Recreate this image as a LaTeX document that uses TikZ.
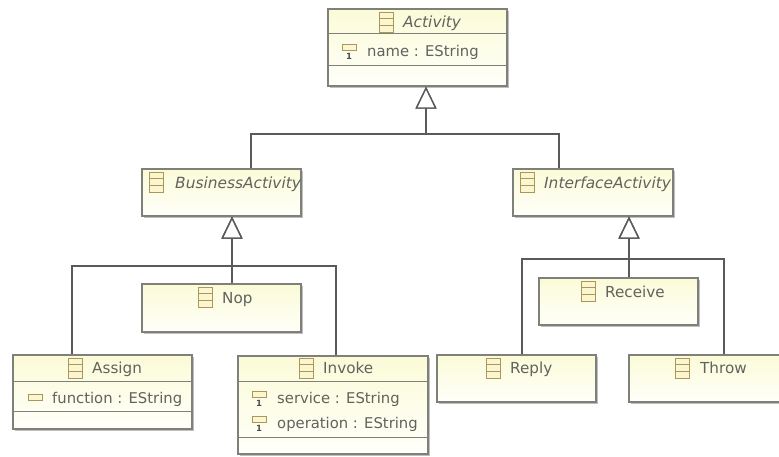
\documentclass[tikz,border=0pt]{standalone}
\usepackage{fontspec}
\setmainfont{DejaVu Sans}
\usetikzlibrary{arrows.meta,shadows}
\definecolor{edgec}{HTML}{5A5A5A}
\definecolor{boxc}{HTML}{80807A}
\definecolor{txtc}{HTML}{62625E}
\definecolor{iconc}{HTML}{A8985E}
\definecolor{iconf}{HTML}{FBF6CF}
\definecolor{topc}{HTML}{FBFBD8}
\definecolor{botc}{HTML}{FFFFFA}
\tikzset{
  umlbox/.style={draw=boxc,line width=1.3pt,top color=topc,bottom color=botc,inner sep=0pt,
    drop shadow={shadow xshift=1.5pt,shadow yshift=-1.5pt,fill=black,opacity=.25}},
  sep/.style={draw=boxc,line width=1pt},
  gen/.style={draw=edgec,line width=1.4pt,-{Triangle[open,fill=white,length=22pt,width=21pt,line width=1.4pt]}},
  lbl/.style={anchor=base west,inner sep=0pt,text=txtc,font=\fontsize{14.8}{17}\selectfont},
  tlbl/.style={lbl,font=\fontsize{15.2}{17}\selectfont},
  ilbl/.style={lbl,font=\fontsize{15.4}{17}\selectfont\itshape},
  oneb/.style={anchor=base,inner sep=0pt,text=black!70,font=\fontsize{8.5}{9}\selectfont\bfseries},
  ibar/.style={draw=iconc,fill=iconf,line width=1pt},
}
\newcommand{\classicon}[2]{%
  \path[ibar] (#1,#2) rectangle ++(14,20);
  \draw[iconc,line width=.9pt] (#1,#2+6.7) -- ++(14,0) (#1,#2+13.3) -- ++(14,0);}
\newcommand{\attricon}[3]{% x, top y, name
  \path[ibar] (#1,#2) rectangle ++(14,6);
  \node[oneb] (#3) at (#1+7,#2+15) {1};}
\begin{document}
\begin{tikzpicture}[x=1pt,y=-1pt]
\useasboundingbox (0,0) rectangle (779,456);
\clip (0,0) rectangle (779,456);
\fill[white] (0,0) rectangle (779,456);
% class boxes
\node[umlbox,minimum width=179pt,minimum height=77pt] (activity) at (417.5,47.5) {};
\node[umlbox,minimum width=159pt,minimum height=47pt] (business) at (221.5,192.5) {};
\node[umlbox,minimum width=160pt,minimum height=47pt] (interface) at (593,192.5) {};
\node[umlbox,minimum width=159pt,minimum height=48pt] (nop) at (221.5,308) {};
\node[umlbox,minimum width=179pt,minimum height=74pt] (assign) at (102.5,392) {};
\node[umlbox,minimum width=190pt,minimum height=98pt] (invoke) at (333,405) {};
\node[umlbox,minimum width=159pt,minimum height=47pt] (receive) at (618.5,301.5) {};
\node[umlbox,minimum width=159pt,minimum height=47pt] (reply) at (516.5,378.5) {};
\node[umlbox,minimum width=159pt,minimum height=47pt] (throw) at (708.5,378.5) {};
% compartments
\draw[sep] (activity.west |- 0,33.5) -- (activity.east |- 0,33.5) (activity.west |- 0,65) -- (activity.east |- 0,65);
\draw[sep] (assign.west |- 0,381) -- (assign.east |- 0,381) (assign.west |- 0,411) -- (assign.east |- 0,411);
\draw[sep] (invoke.west |- 0,381) -- (invoke.east |- 0,381) (invoke.west |- 0,437) -- (invoke.east |- 0,437);
% connectors
\coordinate (j0) at (426,134);
\coordinate (j1) at (232,266);
\coordinate (j2) at (629,259);
\draw[gen] ([xshift=29.5pt]business.north) |- (j0) -- ([xshift=8.5pt]activity.south);
\draw[gen] ([xshift=-34pt]interface.north) |- (j0) -- ([xshift=8.5pt]activity.south);
\draw[gen] ([xshift=-30.5pt]assign.north) |- (j1) -- ([xshift=10.5pt]business.south);
\draw[gen] ([xshift=3pt]invoke.north) |- (j1) -- ([xshift=10.5pt]business.south);
\draw[gen] ([xshift=10.5pt]nop.north) -- ([xshift=10.5pt]business.south);
\draw[gen] ([xshift=5.5pt]reply.north) |- (j2) -- ([xshift=36pt]interface.south);
\draw[gen] ([xshift=15.5pt]throw.north) |- (j2) -- ([xshift=36pt]interface.south);
\draw[gen] ([xshift=10.5pt]receive.north) -- ([xshift=36pt]interface.south);
% class icons
\classicon{379}{12}
\classicon{149}{172}
\classicon{520}{172}
\classicon{198}{287}
\classicon{68}{358}
\classicon{299}{358}
\classicon{581}{281}
\classicon{486}{358}
\classicon{675}{358}
% titles
\node[ilbl] (tactivity) at (403,27) {Activity};
\node[ilbl] (tbusiness) at (175,188) {BusinessActivity};
\node[ilbl] (tinterface) at (544,188) {InterfaceActivity};
\node[tlbl] (tnop) at (222,303) {Nop};
\node[tlbl] (tassign) at (92,373) {Assign};
\node[tlbl] (tinvoke) at (323,373) {Invoke};
\node[tlbl] (treceive) at (605,297) {Receive};
\node[tlbl] (treply) at (510,373) {Reply};
\node[tlbl] (tthrow) at (700,373) {Throw};
% attributes
\attricon{342}{44}{one1}
\node[lbl] (aname) at (367,56) {name : EString};
\path[ibar] (28,394) rectangle ++(14,6);
\node[lbl] (afunction) at (52,403) {function : EString};
\attricon{252}{391}{one2}
\node[lbl] (aservice) at (277,403) {service : EString};
\attricon{252}{416}{one3}
\node[lbl] (aoperation) at (277,428) {operation : EString};
\end{tikzpicture}
\end{document}
